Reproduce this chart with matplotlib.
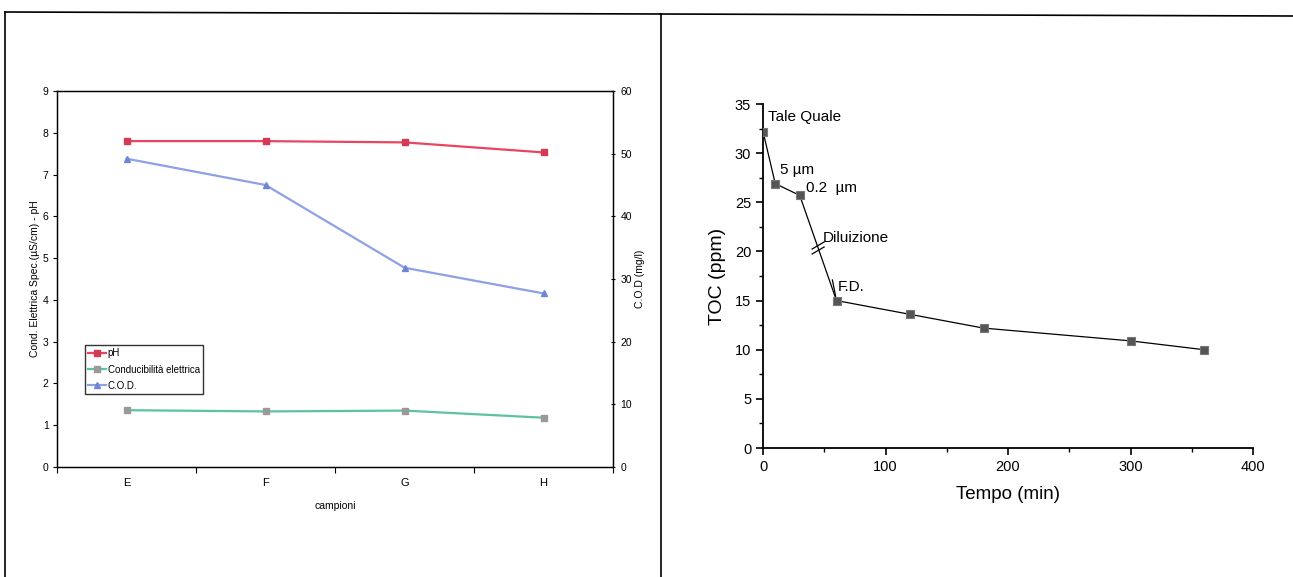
import matplotlib
matplotlib.use("Agg")
import matplotlib.pyplot as plt
from matplotlib.lines import Line2D
from matplotlib.ticker import MultipleLocator, FixedLocator, NullFormatter

# ---------------- data ----------------
campioni = ["E", "F", "G", "H"]
ph = [7.80, 7.80, 7.77, 7.53]
conducibilita = [1.36, 1.33, 1.35, 1.18]
cod = [49.2, 45.0, 31.8, 27.7]

tempo = [0, 10, 30, 60, 120, 180, 300, 360]
toc = [32.2, 26.9, 25.7, 15.0, 13.6, 12.2, 10.9, 10.0]

ann_labels = ["Tale Quale", "5 µm", "0.2  µm", "Diluizione", "F.D."]

narrow = ["Liberation Sans Narrow", "Liberation Sans", "DejaVu Sans"]
helv = ["Liberation Sans", "DejaVu Sans"]

W, H = 1293, 577
fig = plt.figure(figsize=(W / 100, H / 100), dpi=100)

# panel frame lines
def fl(x0, y0, x1, y1, lw=1.2):
    fig.add_artist(Line2D([x0 / W, x1 / W], [1 - y0 / H, 1 - y1 / H],
                          transform=fig.transFigure, color="black", lw=lw))

fl(5, 12, 660, 14)
fl(660, 14, 1293, 16)
fl(5, 12, 5, 577)
fl(661, 14, 661, 577)

# ---------------- left chart ----------------
ax1 = fig.add_axes([57 / W, 1 - 467 / H, (613 - 57) / W, (467 - 91) / H])
x = list(range(len(campioni)))
l_ph, = ax1.plot(x, ph, color="#e8465e", lw=1.6, marker="s", ms=4.5,
                 mfc="#d23a55", mec="#d23a55", label="pH")
l_co, = ax1.plot(x, conducibilita, color="#5cc3a2", lw=1.6, marker="s", ms=4.5,
                 mfc="#9a9a9a", mec="#9a9a9a", label="Conducibilità elettrica")
ax1.set_ylim(0, 9)
ax1.set_xlim(-0.5, len(campioni) - 0.5)
ax1.yaxis.set_major_locator(MultipleLocator(1))
ax1.xaxis.set_major_locator(FixedLocator([i - 0.5 for i in range(len(campioni) + 1)]))
ax1.xaxis.set_major_formatter(NullFormatter())
ax1.xaxis.set_minor_locator(FixedLocator(x))
ax1.set_xticklabels(campioni, minor=True)
ax1.tick_params(axis="x", which="minor", length=0, pad=8, labelsize=8)
ax1.tick_params(axis="x", which="major", length=4, direction="out")
ax1.tick_params(axis="y", labelsize=7.5, length=3, direction="out", pad=3)
for lab in ax1.get_xticklabels(minor=True) + ax1.get_yticklabels():
    lab.set_family(narrow)
ax1.set_ylabel("Cond. Elettrica Spec.(µS/cm) - pH", fontsize=7.5, family=narrow, labelpad=2)
ax1.set_xlabel("campioni", fontsize=7.5, family=narrow, labelpad=9)
for s in ax1.spines.values():
    s.set_linewidth(1.0)

ax2 = ax1.twinx()
l_cod, = ax2.plot(x, cod, color="#8ea0e6", lw=1.6, marker="^", ms=5,
                  mfc="#6f86d6", mec="#6f86d6", label="C.O.D.")
ax2.set_ylim(0, 60)
ax2.yaxis.set_major_locator(MultipleLocator(10))
ax2.tick_params(axis="y", labelsize=7.5, length=3, direction="inout", pad=4)
for lab in ax2.get_yticklabels():
    lab.set_family(narrow)
ax2.set_ylabel("C.O.D (mg/l)", fontsize=7.5, family=narrow, labelpad=2)

leg = ax1.legend(handles=[l_ph, l_co, l_cod], loc="upper left",
                 bbox_to_anchor=(0.05, 0.325), frameon=True,
                 fancybox=False, edgecolor="black", handlelength=1.8,
                 handletextpad=0.2, borderpad=0.35, labelspacing=0.65,
                 borderaxespad=0, prop={"family": narrow, "size": 7})
leg.get_frame().set_linewidth(1.0)
leg.set_zorder(5)

# ---------------- right chart ----------------
ax3 = fig.add_axes([763 / W, 1 - 448 / H, (1253 - 763) / W, (448 - 104) / H])
ax3.plot(tempo, toc, color="black", lw=0.9, marker="s", ms=6,
         mfc="#555555", mec="#777777", mew=0.8, zorder=3)
ax3.set_xlim(0, 400)
ax3.set_ylim(0, 35)
ax3.spines["top"].set_visible(False)
ax3.spines["right"].set_visible(False)
ax3.spines["left"].set_linewidth(1.3)
ax3.spines["bottom"].set_linewidth(1.3)
ax3.xaxis.set_major_locator(MultipleLocator(100))
ax3.xaxis.set_minor_locator(MultipleLocator(50))
ax3.yaxis.set_major_locator(MultipleLocator(5))
ax3.yaxis.set_minor_locator(MultipleLocator(2.5))
ax3.tick_params(which="major", length=5, width=1.2, labelsize=10.5)
ax3.tick_params(which="minor", length=3, width=1.0)
for lab in ax3.get_xticklabels() + ax3.get_yticklabels():
    lab.set_family(helv)
ax3.set_ylabel("TOC (ppm)", fontsize=14, family=helv, labelpad=6)
ax3.set_xlabel("Tempo (min)", fontsize=13.5, family=helv, labelpad=9)

afs = 11
ax3.text(4, 33.7, ann_labels[0], fontsize=afs, family=helv, va="center")
ax3.text(14, 28.3, ann_labels[1], fontsize=afs, family=helv, va="center")
ax3.text(35, 26.5, ann_labels[2], fontsize=afs, family=helv, va="center")
ax3.text(49, 21.4, ann_labels[3], fontsize=afs, family=helv, va="center")
ax3.text(61, 16.4, ann_labels[4], fontsize=afs, family=helv, va="center")

# F.D. leader line
ax3.annotate("", xy=(tempo[3], toc[3]), xytext=(-3, 15), textcoords="offset points",
             arrowprops=dict(arrowstyle="-", lw=0.9, color="black",
                             shrinkA=0, shrinkB=3))

# break mark "//" on the dilution segment
tb = 45
yb = toc[2] + (toc[3] - toc[2]) * (tb - tempo[2]) / (tempo[3] - tempo[2])
base = ax3.transData.transform((tb, yb))
inv = fig.transFigure.inverted()
for dy in (-2.5, 2.5):
    p0 = inv.transform((base[0] - 6, base[1] + dy - 3.5))
    p1 = inv.transform((base[0] + 6, base[1] + dy + 3.5))
    fig.add_artist(Line2D([p0[0], p1[0]], [p0[1], p1[1]], transform=fig.transFigure,
                          color="black", lw=0.9))

fig.savefig("out.png", dpi=100, facecolor="white")
